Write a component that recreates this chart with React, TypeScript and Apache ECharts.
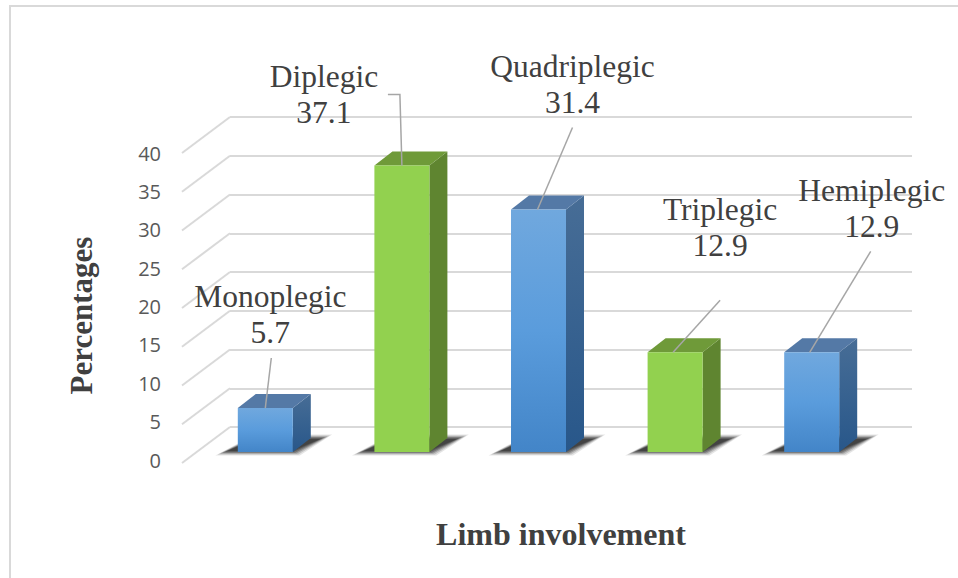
import React, { useEffect, useRef } from "react";
import * as echarts from "echarts";

const categories = ["Monoplegic", "Diplegic", "Quadriplegic", "Triplegic", "Hemiplegic"];
const percentages = [5.7, 37.1, 31.4, 12.9, 12.9];
const yTicks = [0, 5, 10, 15, 20, 25, 30, 35, 40];
const xTitle = "Limb involvement";
const yTitle = "Percentages";

const blueFront = ["#70a8de", "#5a9cdc", "#4385c8"];
const blueSide = ["#476d96", "#28578a"];
const blueTop = "#5479a6";
const greenFront = "#92d14f";
const greenSide = "#5f8530";
const greenTop = "#6f9a39";
const serif = "'Liberation Serif', serif";

// Label anchor and leader path, in pixels relative to the top-middle of each bar's front face.
const labelLayout = [
  { tx: 5, ty: -93, leader: [[0, 0], [6, -50]] },
  { tx: -78, ty: -71, leader: [[0, 0], [-2, -71], [-14, -71]] },
  { tx: 34, ty: -125, leader: [[-1, 0], [34, -82]] },
  { tx: 45, ty: -125, leader: [[-2, 0], [45, -52]] },
  { tx: 60, ty: -144, leader: [[-2, 0], [59, -101]] },
];

export default function App() {
  const ref = useRef<HTMLDivElement>(null);
  useEffect(() => {
    const chart = echarts.init(ref.current!, undefined, { renderer: "svg" });

    const barItem = (params: any, api: any) => {
      const i = api.value(0);
      const v = api.value(1);
      const isGreen = i % 2 === 1;
      const c = api.coord([i, v]);
      const b = api.coord([i, 0]);
      const w = 55;
      const dx = 18;
      const dy = 14;
      const x0 = c[0] - w / 2;
      const x1 = c[0] + w / 2;
      const yT = c[1];
      const yB = b[1];
      const grad = (stops: string[]) =>
        new echarts.graphic.LinearGradient(0, 0, 0, 1,
          stops.map((color, k) => ({ offset: k / (stops.length - 1), color })));
      const frontFill = isGreen ? greenFront : grad(blueFront);
      const sideFill = isGreen ? greenSide : grad(blueSide);
      const topFill = isGreen ? greenTop : blueTop;
      const layout = labelLayout[i];
      // Stacked translucent floor shapes stand in for the soft floor shadow.
      const shadowLayers = [
        { grow: 4, alpha: 0.12 },
        { grow: 2.5, alpha: 0.18 },
        { grow: 1, alpha: 0.26 },
        { grow: -0.5, alpha: 0.32 },
        { grow: -2, alpha: 0.38 },
        { grow: -3.5, alpha: 0.42 },
      ].map(({ grow, alpha }) => ({
        type: "polygon",
        shape: {
          points: [
            [x0 - 16 - grow * 1.6, yB + 1 + grow * 0.6],
            [x1 + 3 + grow, yB + 1 + grow * 0.6],
            [x1 + 33 + grow * 1.6, yB - 15 - grow * 0.6],
            [x0 + 17, yB - 15 - grow * 0.6],
          ],
        },
        style: { fill: `rgba(40,40,40,${alpha})` },
      }));
      return {
        type: "group",
        children: [
          ...shadowLayers,
          { type: "polygon", shape: { points: [[x1, yT], [x1 + dx, yT - dy], [x1 + dx, yB - dy], [x1, yB]] }, style: { fill: sideFill } },
          { type: "polygon", shape: { points: [[x0, yT], [x0 + dx, yT - dy], [x1 + dx, yT - dy], [x1, yT]] }, style: { fill: topFill } },
          { type: "rect", shape: { x: x0, y: yT, width: w, height: yB - yT }, style: { fill: frontFill } },
          {
            type: "polyline",
            shape: { points: layout.leader.map(([px, py]) => [c[0] + px, yT + py]) },
            style: { stroke: "#a6a6a6", lineWidth: 1.5, fill: "none" },
          },
          {
            type: "text",
            x: c[0] + layout.tx,
            y: yT + layout.ty,
            style: {
              text: `${categories[i]}\n${v}`,
              font: `31.5px ${serif}`,
              lineHeight: 36,
              fill: "#404040",
              align: "center",
              verticalAlign: "middle",
            },
          },
        ],
      };
    };

    const wallItem = (params: any, api: any) => {
      const p = api.coord([0, api.value(0)]);
      const x = api.coord([0, 0])[0];
      return {
        type: "line",
        shape: { x1: x - 48, y1: p[1] + 36, x2: x, y2: p[1] },
        style: { stroke: "#d9d9d9", lineWidth: 2 },
      };
    };

    chart.setOption({
      animation: false,
      backgroundColor: "#ffffff",
      grid: [
        { left: 197, top: 143, width: 683, height: 309 },
        { left: 230, top: 117, width: 682, height: 310 },
        { left: 169, top: 153, width: 784, height: 307 },
      ],
      xAxis: [
        { gridIndex: 0, type: "category", data: categories, show: false },
        { gridIndex: 1, type: "category", data: categories, boundaryGap: false, show: false },
        {
          gridIndex: 2,
          type: "category",
          data: categories,
          name: xTitle,
          nameLocation: "middle",
          nameGap: 58,
          nameTextStyle: { fontFamily: serif, fontWeight: "bold", fontSize: 32, color: "#404040" },
          axisLine: { show: false },
          axisTick: { show: false },
          axisLabel: { show: false },
        },
      ],
      yAxis: [
        { gridIndex: 0, type: "value", min: 0, max: 40, interval: 5, show: false },
        {
          gridIndex: 1,
          type: "value",
          min: 0,
          max: 40,
          interval: 5,
          axisLine: { show: false },
          axisTick: { show: false },
          axisLabel: { show: false },
          splitLine: { lineStyle: { color: "#d9d9d9", width: 2 } },
        },
        {
          gridIndex: 2,
          type: "value",
          min: 0,
          max: 40,
          interval: 5,
          name: yTitle,
          nameLocation: "middle",
          nameGap: 72,
          nameTextStyle: { fontFamily: serif, fontWeight: "bold", fontSize: 31, color: "#404040", padding: [0, 18, 0, 0] },
          axisLine: { show: false },
          axisTick: { show: false },
          splitLine: { show: false },
          axisLabel: { margin: 8, fontFamily: "'Open Sans'", fontSize: 20, color: "#595959" },
        },
      ],
      series: [
        {
          type: "custom",
          xAxisIndex: 1,
          yAxisIndex: 1,
          renderItem: wallItem,
          data: yTicks.map((t) => [t]),
          encode: { y: 0 },
          silent: true,
          z: 1,
        },
        {
          type: "custom",
          xAxisIndex: 0,
          yAxisIndex: 0,
          renderItem: barItem,
          data: percentages.map((v, i) => [i, v]),
          encode: { x: 0, y: 1 },
          clip: false,
          z: 3,
        },
      ],
      graphic: [
        {
          type: "rect",
          shape: { x: 10, y: 6, width: 1000, height: 700 },
          style: { fill: "none", stroke: "#d9d9d9", lineWidth: 2 },
          silent: true,
          z: -1,
        },
      ],
    });
    return () => chart.dispose();
  }, []);
  return <div ref={ref} style={{ position: "fixed", left: 0, top: 0, width: 958, height: 578 }} />;
}
